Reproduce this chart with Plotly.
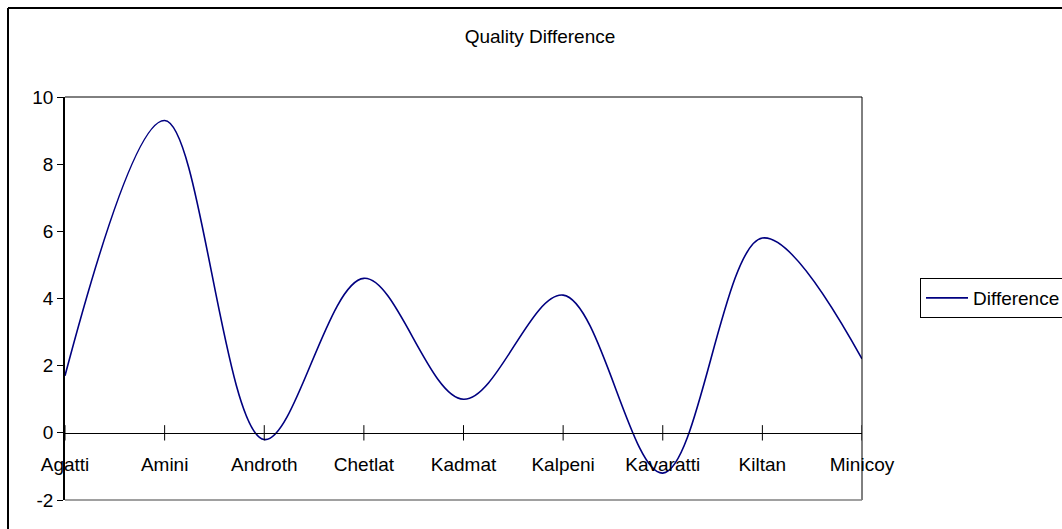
import plotly.graph_objects as go

# Islands and their quality difference values
islands = ["Agatti", "Amini", "Androth", "Chetlat", "Kadmat",
           "Kalpeni", "Kavaratti", "Kiltan", "Minicoy"]
difference = [1.7, 9.3, -0.2, 4.6, 1.0, 4.1, -1.2, 5.8, 2.2]

y_ticks = [-2, 0, 2, 4, 6, 8, 10]

FONT = "Liberation Sans, Arial, sans-serif"

# Plot-area geometry in pixels (used to place frame shapes in paper units)
W, H = 1062, 529
L, R, T, B = 65, 200, 97, 29
PW, PH = W - L - R, H - T - B


def px_x(px):
    return (px - L) / PW


def px_y(py):
    return (H - B - py) / PH


fig = go.Figure()

fig.add_trace(go.Scatter(
    x=islands, y=difference, mode="lines", name="Difference",
    line=dict(color="#000080", width=1.6, shape="spline", smoothing=1.0),
    hoverinfo="x+y",
))

# Crossing tick marks on the category axis at y = 0
fig.add_trace(go.Scatter(
    x=islands, y=[0] * len(islands), mode="markers", showlegend=False,
    hoverinfo="skip",
    marker=dict(symbol="line-ns", size=11, color="black",
                line=dict(color="black", width=1)),
))

shapes = [
    # plot area border
    dict(type="line", xref="paper", yref="paper", x0=0, x1=1, y0=1, y1=1,
         line=dict(color="black", width=1)),
    dict(type="line", xref="paper", yref="paper", x0=1, x1=1, y0=0, y1=1,
         line=dict(color="black", width=1)),
    dict(type="line", xref="paper", yref="paper", x0=0, x1=1, y0=0, y1=0,
         line=dict(color="#808080", width=1.5)),
    # outer chart frame
    dict(type="line", xref="paper", yref="paper", x0=px_x(8), x1=px_x(8),
         y0=px_y(8), y1=px_y(560), line=dict(color="black", width=2)),
    dict(type="line", xref="paper", yref="paper", x0=px_x(8), x1=px_x(1100),
         y0=px_y(8), y1=px_y(8), line=dict(color="black", width=2)),
]

fig.update_layout(
    width=W, height=H,
    margin=dict(l=L, r=R, t=T, b=B, autoexpand=False),
    paper_bgcolor="white", plot_bgcolor="white",
    font=dict(family=FONT, size=19, color="black"),
    title=dict(text="Quality Difference", x=540 / W, xref="container",
               xanchor="center", y=1 - 36 / H, yref="container",
               yanchor="middle", font=dict(family=FONT, size=19, color="black")),
    showlegend=True,
    legend=dict(x=px_x(920), xanchor="left", y=px_y(298), yanchor="middle",
                bordercolor="black", borderwidth=1, bgcolor="white",
                itemwidth=42, font=dict(family=FONT, size=19, color="black")),
    shapes=shapes,
    xaxis=dict(type="category", range=[0, len(islands) - 1],
               anchor="free", position=1 / 6,
               showline=True, linecolor="black", linewidth=1,
               ticks="", showgrid=False, zeroline=False,
               ticklabelstandoff=14,
               tickfont=dict(family=FONT, size=19, color="black")),
    yaxis=dict(range=[-2, 10], tickvals=y_ticks,
               ticktext=[str(v) for v in y_ticks],
               showline=True, linecolor="black", linewidth=1.5,
               ticks="outside", ticklen=6, tickcolor="black",
               showgrid=False, zeroline=False,
               tickfont=dict(family=FONT, size=19, color="black")),
)

fig.write_html("out.html")
